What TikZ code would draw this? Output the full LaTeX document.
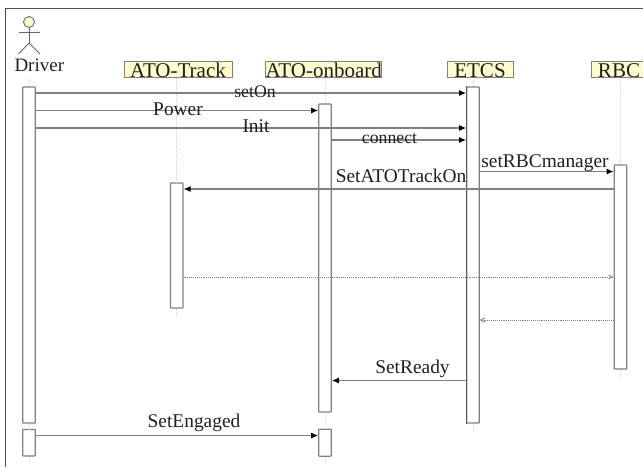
\documentclass[tikz,border=0pt]{standalone}
\usepackage{fontspec}
\setmainfont{Liberation Serif}
\usetikzlibrary{arrows.meta}
\definecolor{hdrfill}{HTML}{FFFBCC}
\definecolor{edge}{gray}{0.5}
\definecolor{ink}{gray}{0.12}
\newcommand{\hdrsize}{\fontsize{21}{21}\selectfont}
\newcommand{\medsize}{\fontsize{19.4}{20}\selectfont}
\newcommand{\smlsize}{\fontsize{17.7}{18}\selectfont}
\tikzset{
  x=1pt,y=-1pt,
  hdr/.style={draw=edge,fill=hdrfill,line width=1pt,inner sep=0pt,minimum height=16.5pt,text=ink,font=\hdrsize},
  bar/.style={draw=edge,fill=white,line width=1.2pt,inner sep=0pt,minimum width=12.5pt,rounded corners=.6pt},
  life/.style={draw=black!15,line width=.7pt,densely dotted},
  msg/.style={draw=edge,line width=1.2pt,-{Latex[black,length=7pt,width=6pt]}},
  ret/.style={draw=edge,line width=.9pt,densely dotted,-{Straight Barb[gray,length=4pt,width=4pt]}},
  lbl/.style={inner sep=0pt,text=ink,font=\medsize},
  lbs/.style={inner sep=0pt,text=ink,font=\smlsize},
  actor/.style={draw=black!60,line width=.9pt},
}
\begin{document}
\begin{tikzpicture}
\useasboundingbox (0,0) rectangle (643,467);
\draw[black!70,line width=.9pt] (5.5,467) -- (5.5,8.5) -- (643,8.5);

% actor
\node[circle,draw=black!60,fill=hdrfill,line width=.9pt,minimum size=11pt,inner sep=0pt] (head) at (29,22) {};
\coordinate (hip) at (29,43);
\coordinate (armL) at (18.5,32.5);
\coordinate (armR) at (40,32.5);
\coordinate (legL) at (18.5,54);
\coordinate (legR) at (40,54);
\draw[actor] (head.south) -- (hip);
\draw[actor] (armL) -- (armR);
\draw[actor] (legL) -- (hip) -- (legR);
\node[lbl,font=\fontsize{19}{19}\selectfont] (driver) at (39.3,65) {Driver};

% headers
\node[hdr,minimum width=108pt] (track) at (178,69.5) {};
\node[hdr,minimum width=116.5pt] (onboard) at (323.7,69.5) {};
\node[hdr,minimum width=66pt] (etcs) at (480,69.5) {};
\node[hdr,minimum width=52pt] (rbc) at (617.7,69.5) {};
\node[lbl,font=\hdrsize] (trackT) at (178,70.2) {ATO-Track};
\node[lbl,font=\hdrsize] (onboardT) at (323.7,70.2) {ATO-onboard};
\node[lbl,font=\hdrsize] (etcsT) at (480,70.2) {ETCS};
\node[lbl,font=\hdrsize] (rbcT) at (619,70.2) {RBC};

% end-of-life markers
\coordinate (drvEnd) at (29,463);
\coordinate (drvTop) at (29,78);
\coordinate (trkEnd) at (176.7,316);
\coordinate (onbEnd) at (325,463);
\coordinate (etcEnd) at (473,431);
\coordinate (rbcEnd) at (620.5,377);

% activation bars
\node[bar,minimum height=336pt] (drvA) at (29,255) {};
\node[bar,minimum height=26.5pt] (drvB) at (29,442.7) {};
\node[bar,minimum height=125pt] (trkA) at (176.7,245.5) {};
\node[bar,minimum height=308pt] (onbA) at (325,258) {};
\node[bar,minimum height=27pt] (onbB) at (325,442.7) {};
\node[bar,minimum height=336pt] (etcA) at (473,255) {};
\node[bar,minimum height=204pt] (rbcA) at (620.5,267) {};
\draw[black!65,line width=1pt] (etcA.north west) -- (etcA.south west);

% lifelines
\draw[life] (drvTop) -- (drvA.north);
\draw[life] (drvA.south) -- (drvB.north);
\draw[life] (drvB.south) -- (drvEnd);
\draw[life] (trkA.north |- track.south) -- (trkA.north);
\draw[life] (trkA.south) -- (trkEnd);
\draw[life] (onbA.north |- onboard.south) -- (onbA.north);
\draw[life] (onbA.south) -- (onbB.north);
\draw[life] (onbB.south) -- (onbEnd);
\draw[life] (etcA.north |- etcs.south) -- (etcA.north);
\draw[life] (etcA.south) -- (etcEnd);
\draw[life] (rbcA.north |- rbc.south) -- (rbcA.north);
\draw[life] (rbcA.south) -- (rbcEnd);

% messages
\draw[msg] (drvA.east |- 0,93) -- (etcA.west |- 0,93);
\draw[msg] (drvA.east |- 0,110.5) -- (onbA.west |- 0,110.5);
\draw[msg] (drvA.east |- 0,128) -- (etcA.west |- 0,128);
\draw[msg] (onbA.east |- 0,140) -- (etcA.west |- 0,140);
\draw[msg] (etcA.east |- 0,171.5) -- (rbcA.west |- 0,171.5);
\draw[msg] (rbcA.west |- 0,189) -- (trkA.east |- 0,189);
\draw[ret] (trkA.east |- 0,277) -- (rbcA.west |- 0,277);
\draw[ret] (rbcA.west |- 0,320) -- (etcA.east |- 0,320);
\draw[msg] (etcA.west |- 0,380.5) -- (onbA.east |- 0,380.5);
\draw[msg] (drvB.east |- 0,435.5) -- (onbB.west |- 0,435.5);

% labels
\node[lbs] (lOn) at (255,92) {setOn};
\node[lbl] (lPw) at (178,109.7) {Power};
\node[lbl] (lIn) at (256,126.5) {Init};
\node[lbs] (lCn) at (389.5,139) {connect};
\node[lbl] (lRb) at (545,163) {setRBCmanager};
\node[lbl] (lAt) at (401,175.5) {SetATOTrackOn};
\node[lbl] (lRd) at (412.5,369.3) {SetReady};
\node[lbl] (lEn) at (194,422.7) {SetEngaged};
\end{tikzpicture}
\end{document}
